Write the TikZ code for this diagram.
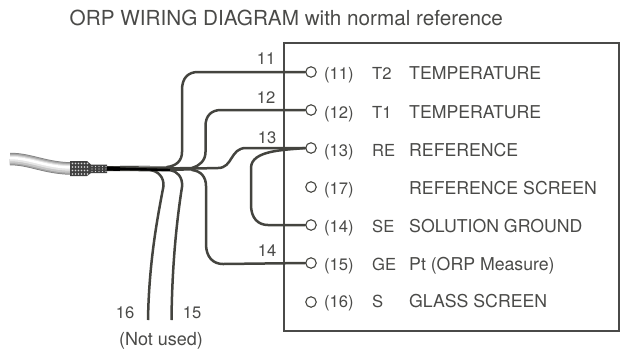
\documentclass[tikz,border=0pt]{standalone}
\usepackage{fontspec}
\setmainfont{TeX Gyre Heros}
\definecolor{ink}{HTML}{4A4A48}
\definecolor{wirec}{HTML}{44443F}
\tikzset{
  lbl/.style={inner sep=0pt,anchor=base west,text=ink,font=\fontsize{16.6}{18}\selectfont},
  desc/.style={lbl,font=\fontsize{17.7}{20}\selectfont},
  wnum/.style={inner sep=0pt,anchor=base,text=ink,font=\fontsize{16.6}{18}\selectfont},
  term/.style={circle,draw=wirec,line width=1.1pt,fill=white,minimum size=10.5pt,inner sep=0pt},
  wire/.style={draw=wirec,line width=2.5pt,line cap=round},
}
\begin{document}
\begin{tikzpicture}[x=1pt,y=-1pt]
\useasboundingbox (0,0) rectangle (620,349);
\node[lbl,font=\fontsize{20.7}{24}\selectfont] (title) at (69.5,25) {ORP WIRING DIAGRAM with normal reference};
\draw[draw=ink,line width=1.2pt] (284,43) rectangle (619,331);
% cable
\draw[line width=12.5pt,draw=black!50] (10,159) .. controls (30,159) and (45,168) .. (71,168.5);
\draw[line width=11pt,draw=black!35] (10,159) .. controls (30,159) and (45,168) .. (71,168.5);
\draw[line width=8.5pt,draw=black!22] (10,159) .. controls (30,159) and (45,168) .. (71,168.5);
\draw[line width=5.5pt,draw=black!10] (10,158.5) .. controls (30,158.5) and (45,167.5) .. (71,168);
\draw[line width=2.5pt,draw=white] (10,158) .. controls (30,158) and (45,167) .. (71,167.5);
% connector boot
\fill[black!75] (70,161) -- (87,161) -- (91,164.5) -- (107,164.5) -- (107,173) -- (91,173) -- (87,176) -- (70,176) -- cycle;
\foreach \x in {72.5,75.5,...,87.5}
  \foreach \y in {163.5,167,170.5,174}
    \fill[black!15] (\x,\y) circle (0.8pt);
\foreach \x in {92,95.5,...,106}
  \foreach \y in {166.5,169,171.5}
    \fill[black!15] (\x,\y) circle (0.7pt);
% named junctions on the bundle
\coordinate (bs) at (107,168.5);
\coordinate (be) at (172,169);
\coordinate (j11) at (167,167);
\coordinate (j12) at (192,168);
\coordinate (j13) at (218,168);
\coordinate (j14) at (192,170);
\coordinate (j15) at (170,170);
\coordinate (j16) at (150,170);
\coordinate (e16) at (148,320);
\coordinate (e15) at (171.5,320);
% terminals
\foreach \n/\y in {11/72,12/110,13/148,17/187,14/225,15/263,16/302}
  \node[term] (t\n) at (311,\y) {};
% wires
\draw[wire] (j11) .. controls (176,166) and (182,161) .. (182,152) -- (182,90) .. controls (182,78) and (188,72) .. (198,72) -- (t11.west);
\draw[wire] (j12) .. controls (199,166) and (205.5,161) .. (205.5,152) -- (205.5,126) .. controls (205.5,116) and (211,110) .. (221,110) -- (t12.west);
\draw[wire] (be) -- (j13) .. controls (233,168) and (230,148) .. (246,148) -- (t13.west);
\draw[wire] (t13.west) .. controls (285,150) and (251,150) .. (251,168) -- (251,205) .. controls (251,218) and (258,225) .. (268,225) -- (t14.west);
\draw[wire] (j14) .. controls (201,171) and (206,177) .. (206,186) -- (206,244) .. controls (206,257) and (213,264) .. (223,264) -- (t15.west);
\draw[wire,line cap=butt] (j16) .. controls (158,171) and (164,177) .. (163.5,186) .. controls (158,215) and (149,260) .. (148,320);
\draw[wire,line cap=butt] (j15) .. controls (177,171) and (183,177) .. (182,187) .. controls (176,225) and (172,270) .. (171.5,320);
% bundle
\draw[line width=5pt,draw=wirec] (bs) -- (be);
\draw[line width=3.8pt,draw=wirec] (be) -- (194,168.7);
\draw[line width=2.4pt,draw=black] (bs) -- (170,170);
\draw[line width=4pt,draw=black] (bs) -- (120,169);
\draw[line width=1pt,draw=black!15] (120,165.5) -- (150,165.5);
% wire numbers
\node[wnum] (n11) at (266,64) {11};
\node[wnum] (n12) at (266,103) {12};
\node[wnum] (n13) at (267,143) {13};
\node[wnum] (n14) at (267,256) {14};
\node[wnum] (n16) at (125,318) {16};
\node[wnum] (n15) at (192,318) {15};
\node[wnum,font=\fontsize{18}{20}\selectfont] (nu) at (161,345) {(Not used)};
% terminal table
\foreach \n/\y/\s/\t in {11/79/T2/TEMPERATURE,12/118/T1/TEMPERATURE,13/156/RE/REFERENCE,17/194//REFERENCE SCREEN,14/232/SE/SOLUTION GROUND,15/270/GE/{Pt (ORP Measure)},16/307/S/GLASS SCREEN}{
  \node[lbl] (p\n) at (324,\y) {(\n)};
  \node[lbl] (s\n) at (372,\y) {\s};
  \node[desc] (d\n) at (409,\y) {\t};
}
\end{tikzpicture}
\end{document}
